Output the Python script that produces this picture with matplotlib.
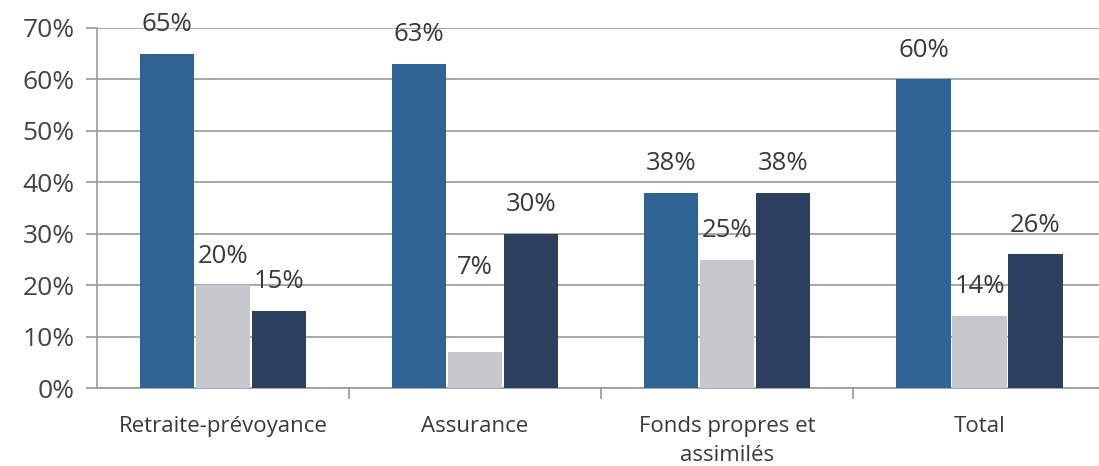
import matplotlib.pyplot as plt
import numpy as np

categories = ['Retraite-prévoyance', 'Assurance', 'Fonds propres et\nassimilés', 'Total']
series_a = [65, 63, 38, 60]
series_b = [20, 7, 25, 14]
series_c = [15, 30, 38, 26]

colors = ['#2f6394', '#c6c8cb', '#2c3f5f']
plt.rcParams['font.family'] = ['Open Sans', 'DejaVu Sans']

fig = plt.figure(figsize=(10.99, 4.66), dpi=100)
ax = fig.add_axes([0.088, 0.167, 0.918, 0.773])

x = np.arange(len(categories))
width = 0.215
step = 0.222
label_lift = {(1, 1): 52}  # the 7% label sits much higher in the original

for i, vals in enumerate([series_a, series_b, series_c]):
    bars = ax.bar(x + (i - 1) * step, vals, width, color=colors[i], zorder=3)
    for j, b in enumerate(bars):
        lift = label_lift.get((j, i), 12)
        ax.annotate(f'{vals[j]}%', (b.get_x() + b.get_width() / 2, b.get_height()),
                    xytext=(0, lift), textcoords='offset points',
                    ha='center', va='bottom', fontsize=18.5, color='#3a3a3a', zorder=4)

ax.set_xlim(-0.5, len(categories) - 0.5)
ax.set_ylim(0, 70)
ax.set_yticks(range(0, 71, 10))
ax.set_yticklabels([f'{v}%' for v in range(0, 71, 10)], fontsize=19, color='#444444')
ax.yaxis.grid(True, color='#9a9a9a', lw=1.2, zorder=0)
ax.tick_params(axis='y', length=8, color='#9a9a9a', width=1.2, pad=8)

ax.set_xticks(x)
ax.set_xticklabels(categories, fontsize=16, color='#3a3a3a', linespacing=1.5)
ax.set_xticks(np.arange(-0.5, len(categories), 1)[1:], minor=True)
ax.tick_params(axis='x', which='major', length=0, pad=20)
ax.tick_params(axis='x', which='minor', length=8, color='#9a9a9a', width=1.2)

for s in ['top', 'right']:
    ax.spines[s].set_visible(False)
ax.spines['left'].set_color('#9a9a9a')
ax.spines['bottom'].set_color('#9a9a9a')
ax.spines['left'].set_linewidth(1.2)
ax.spines['bottom'].set_linewidth(1.2)

fig.savefig('out.png', dpi=100)
